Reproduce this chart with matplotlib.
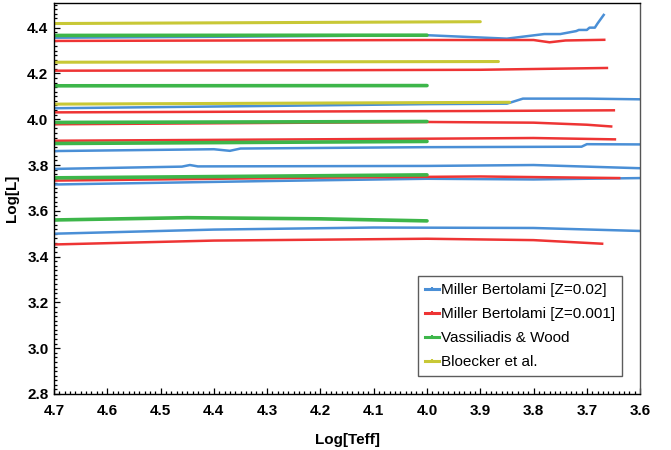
import matplotlib
matplotlib.use("Agg")
import matplotlib.pyplot as plt
from matplotlib.lines import Line2D
from matplotlib.ticker import MultipleLocator, FormatStrFormatter

plt.rcParams["font.family"] = ["Liberation Sans Narrow", "Liberation Sans", "DejaVu Sans"]

BLUE = "#4a8fd6"
RED = "#ee3434"
GREEN = "#3db64a"
YELLOW = "#c8c836"

# Miller Bertolami, Z=0.02 (log Teff, log L)
mb02_x = [
    [4.70, 4.40, 4.00, 3.85, 3.78, 3.75, 3.72, 3.715, 3.70, 3.695, 3.685, 3.68, 3.667],
    [4.70, 4.30, 4.00, 3.85, 3.82, 3.70, 3.60],
    [4.70, 4.40, 4.37, 4.35, 4.00, 3.71, 3.70, 3.60],
    [4.70, 4.46, 4.445, 4.43, 4.00, 3.80, 3.60],
    [4.70, 4.30, 4.00, 3.80, 3.60],
    [4.70, 4.40, 4.10, 3.80, 3.60],
]
mb02_y = [
    [4.356, 4.360, 4.367, 4.352, 4.372, 4.372, 4.385, 4.390, 4.390, 4.400, 4.400, 4.418, 4.460],
    [4.048, 4.058, 4.066, 4.068, 4.090, 4.090, 4.087],
    [3.861, 3.869, 3.862, 3.872, 3.878, 3.880, 3.891, 3.890],
    [3.783, 3.793, 3.800, 3.794, 3.796, 3.800, 3.786],
    [3.715, 3.730, 3.740, 3.737, 3.743],
    [3.500, 3.518, 3.527, 3.525, 3.512],
]

# Miller Bertolami, Z=0.001
mb001_x = [
    [4.70, 4.00, 3.80, 3.77, 3.74, 3.665],
    [4.70, 4.20, 3.90, 3.66],
    [4.70, 4.20, 3.90, 3.647],
    [4.70, 4.00, 3.80, 3.70, 3.652],
    [4.70, 4.00, 3.80, 3.645],
    [4.70, 4.20, 3.90, 3.637],
    [4.70, 4.40, 4.00, 3.80, 3.669],
]
mb001_y = [
    [4.342, 4.346, 4.346, 4.336, 4.344, 4.347],
    [4.212, 4.214, 4.216, 4.224],
    [4.030, 4.034, 4.036, 4.039],
    [3.978, 3.988, 3.985, 3.976, 3.968],
    [3.906, 3.915, 3.918, 3.912],
    [3.732, 3.745, 3.750, 3.743],
    [3.453, 3.470, 3.478, 3.472, 3.456],
]

# Vassiliadis & Wood
vw_x = [
    [4.70, 4.00],
    [4.70, 4.00],
    [4.70, 4.00],
    [4.70, 4.00],
    [4.70, 4.00],
    [4.70, 4.45, 4.20, 4.00],
]
vw_y = [
    [4.366, 4.367],
    [4.146, 4.147],
    [3.986, 3.990],
    [3.894, 3.903],
    [3.744, 3.757],
    [3.560, 3.570, 3.565, 3.556],
]

# Bloecker et al.
bl_x = [
    [4.70, 3.90],
    [4.70, 3.866],
    [4.70, 3.845],
]
bl_y = [
    [4.418, 4.426],
    [4.249, 4.252],
    [4.066, 4.074],
]

fig = plt.figure(figsize=(6.71, 4.5), dpi=100)
ax = fig.add_axes([0.0805, 0.1245, 0.8735, 0.8690])

for xs, ys in zip(mb02_x, mb02_y):
    ax.plot(xs, ys, color=BLUE, lw=1.8, solid_capstyle="butt")
for xs, ys in zip(mb001_x, mb001_y):
    ax.plot(xs, ys, color=RED, lw=1.8, solid_capstyle="butt")
for xs, ys in zip(vw_x, vw_y):
    ax.plot(xs, ys, color=GREEN, lw=2.6, solid_capstyle="round")
for xs, ys in zip(bl_x, bl_y):
    ax.plot(xs, ys, color=YELLOW, lw=2.2, solid_capstyle="round")

ax.set_xlim(4.7, 3.6)
ax.set_ylim(2.8, 4.508)
ax.xaxis.set_major_locator(MultipleLocator(0.1))
ax.xaxis.set_minor_locator(MultipleLocator(0.01))
ax.yaxis.set_major_locator(MultipleLocator(0.2))
ax.yaxis.set_minor_locator(MultipleLocator(0.02))
ax.xaxis.set_major_formatter(FormatStrFormatter("%.1f"))
ax.yaxis.set_major_formatter(FormatStrFormatter("%.1f"))
ax.tick_params(which="both", direction="in", top=False, right=False,
               labelsize=11, width=0.9)
ax.tick_params(which="major", length=4)
ax.tick_params(which="minor", length=2)
ax.tick_params(axis="x", which="major", pad=7)
ax.tick_params(axis="y", which="major", pad=4)
for lab in ax.get_xticklabels() + ax.get_yticklabels():
    lab.set_fontweight("bold")
for side in ax.spines.values():
    side.set_linewidth(1.0)
ax.spines["right"].set_color("#555555")

ax.set_xlabel("Log[Teff]", fontsize=11, fontweight="bold", labelpad=11)
ax.set_ylabel("Log[L]", fontsize=11, fontweight="bold", labelpad=6)

handles = [Line2D([0], [0], color=c, lw=2.2, marker="|", ms=3, mew=1.5)
           for c in (BLUE, RED, GREEN, YELLOW)]
labels = ["Miller Bertolami [Z=0.02]", "Miller Bertolami [Z=0.001]",
          "Vassiliadis & Wood", "Bloecker et al."]
leg = ax.legend(handles, labels, loc="lower right", bbox_to_anchor=(0.969, 0.046),
                fontsize=11, frameon=True, fancybox=False, edgecolor="#333333",
                handlelength=0.9, handletextpad=0.15, borderpad=0.45,
                borderaxespad=0, labelspacing=0.65)
leg.get_frame().set_linewidth(1.0)

fig.savefig("out.png", dpi=100)
